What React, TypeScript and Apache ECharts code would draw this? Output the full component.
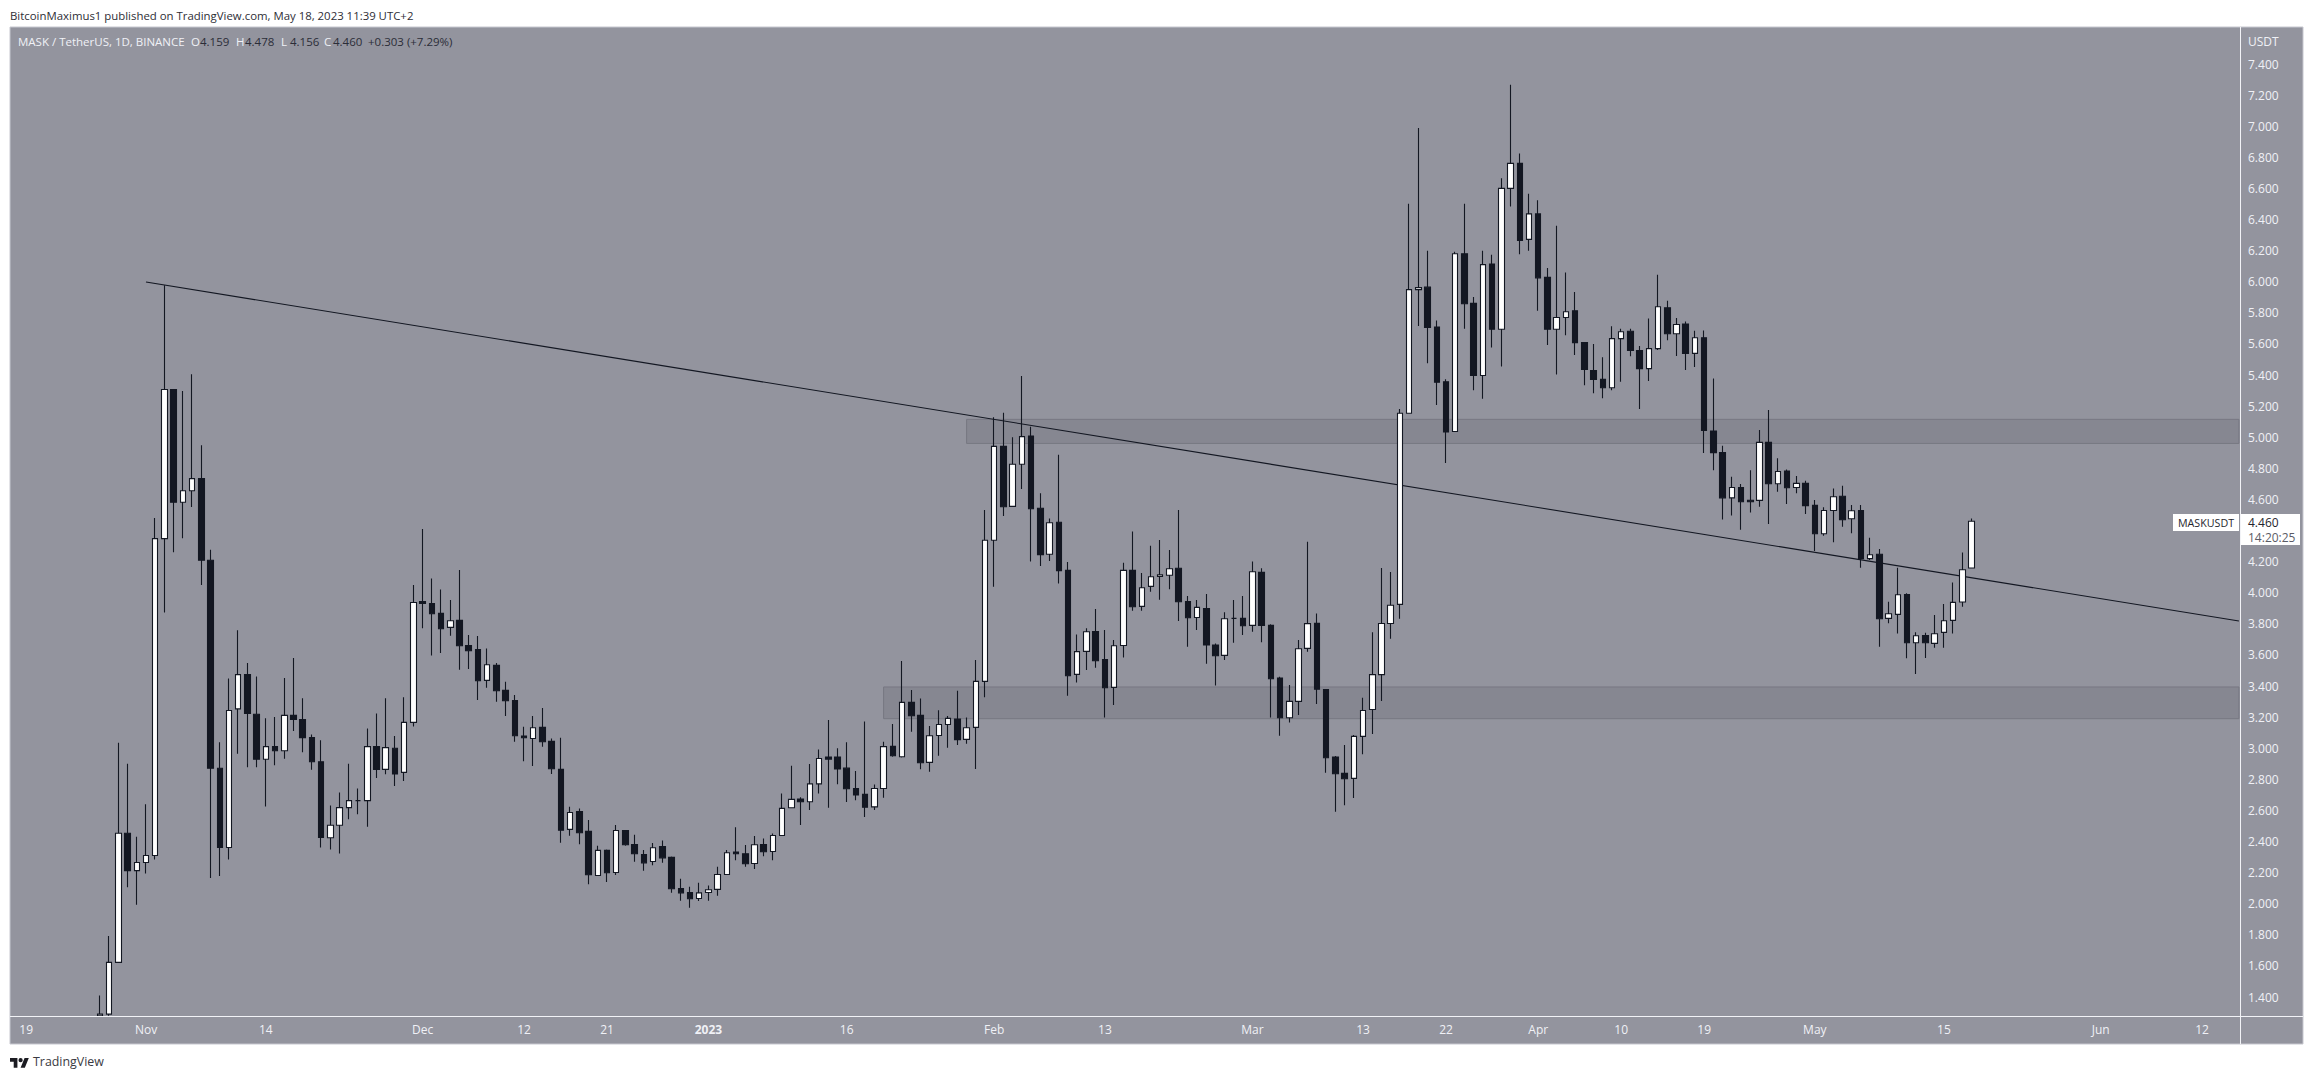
import React, { useEffect, useRef } from "react";
import * as echarts from "echarts";

const firstCategory = Date.UTC(2022, 9, 18);
const categoryCount = 242;
const firstCandleIndex = 9; // Oct 27

const opens = [
  1.28, 1.29, 1.623, 2.453, 2.213,
  2.265, 2.31, 4.348, 5.307, 4.582, 4.656, 4.734, 4.209, 2.871, 2.362,
  3.253, 3.473, 3.218, 2.929, 3.01, 2.984, 3.211, 3.185, 3.068, 2.913,
  2.424, 2.505, 2.618, 2.663, 2.663, 3.01, 2.864, 3.0, 2.845, 3.166,
  3.944, 3.931, 3.867, 3.777, 3.822, 3.661, 3.635, 3.436, 3.533, 3.372,
  3.307, 3.078, 3.063, 3.134, 3.044, 2.864, 2.478, 2.593, 2.465, 2.182,
  2.343, 2.201, 2.471, 2.381, 2.317, 2.272, 2.368, 2.298, 2.098, 2.072,
  2.034, 2.072, 2.092, 2.188, 2.332, 2.321, 2.259, 2.381, 2.336, 2.439,
  2.617, 2.673, 2.656, 2.771, 2.943, 2.943, 2.872, 2.741, 2.703, 2.623,
  2.741, 3.012, 2.945, 3.295, 3.211, 2.909, 3.082, 3.153, 3.188, 3.057,
  3.134, 3.43, 4.337, 4.941, 4.555, 4.826, 5.008, 4.543, 4.247, 4.453,
  4.144, 3.475, 3.623, 3.751, 3.571, 3.391, 3.661, 4.144, 3.912, 4.041,
  4.105, 4.112, 4.157, 3.944, 3.841, 3.899, 3.664, 3.597, 3.835, 3.835,
  3.79, 4.131, 3.79, 3.451, 3.196, 3.301, 3.642, 3.803, 3.378, 2.943,
  2.838, 2.806, 3.076, 3.249, 3.473, 3.802, 3.925, 5.154, 5.949, 5.965,
  5.709, 5.356, 5.037, 6.18, 5.861, 5.397, 6.114, 5.694, 6.6, 6.761,
  6.272, 6.436, 6.028, 5.694, 5.77, 5.813, 5.608, 5.428, 5.372, 5.318,
  5.634, 5.681, 5.558, 5.441, 5.57, 5.833, 5.665, 5.728, 5.539, 5.64,
  5.04, 4.901, 4.61, 4.677, 4.595, 4.594, 4.967, 4.701, 4.782, 4.677,
  4.703, 4.562, 4.379, 4.529, 4.62, 4.476, 4.529, 4.219, 4.247, 3.835,
  3.861, 3.989, 3.678, 3.725, 3.674, 3.745, 3.822, 3.94, 4.159,
];

const highs = [
  1.41, 1.792, 3.036, 2.9, 2.43,
  2.64, 4.481, 5.978, 5.307, 5.298, 5.405, 4.948, 4.277, 3.039, 3.448,
  3.759, 3.548, 3.461, 3.192, 3.201, 3.451, 3.58, 3.321, 3.088, 3.052,
  2.631, 2.715, 2.9, 2.741, 3.127, 3.224, 3.321, 3.078, 3.328, 4.05,
  4.409, 4.092, 4.021, 3.953, 4.146, 3.728, 3.721, 3.642, 3.548, 3.428,
  3.342, 3.138, 3.207, 3.258, 3.063, 3.067, 2.624, 2.613, 2.538, 2.373,
  2.349, 2.506, 2.471, 2.443, 2.345, 2.39, 2.407, 2.304, 2.16, 2.109,
  2.135, 2.118, 2.238, 2.345, 2.491, 2.377, 2.435, 2.42, 2.452, 2.709,
  2.887, 2.684, 2.898, 2.992, 3.181, 3.0, 3.039, 2.853, 3.172, 2.767,
  3.042, 3.155, 3.561, 3.374, 3.32, 3.143, 3.245, 3.207, 3.37, 3.198,
  3.567, 4.532, 5.128, 5.158, 4.999, 5.394, 5.068, 4.639, 4.478, 4.888,
  4.197, 3.732, 3.771, 3.895, 3.76, 3.696, 4.193, 4.393, 4.127, 4.302,
  4.339, 4.275, 4.532, 3.979, 3.953, 3.992, 3.674, 3.874, 3.953, 3.979,
  4.2, 4.157, 3.797, 3.46, 3.406, 3.696, 4.328, 3.867, 3.378, 2.95,
  3.02, 3.085, 3.325, 3.745, 4.159, 4.134, 5.182, 6.502, 6.988, 6.199,
  5.75, 5.372, 6.193, 6.502, 5.902, 6.199, 6.174, 6.666, 7.266, 6.824,
  6.565, 6.524, 6.088, 6.36, 6.06, 5.934, 5.608, 5.599, 5.514, 5.713,
  5.697, 5.697, 5.586, 5.763, 6.044, 5.877, 5.766, 5.744, 5.684, 5.687,
  5.378, 4.945, 4.746, 4.699, 4.787, 5.046, 5.175, 4.864, 4.793, 4.75,
  4.72, 4.596, 4.549, 4.671, 4.688, 4.564, 4.564, 4.354, 4.281, 3.942,
  4.161, 3.996, 3.745, 3.743, 3.856, 3.927, 4.066, 4.259, 4.478,
];

const lows = [
  1.28, 1.28, 1.623, 2.106, 1.993,
  2.194, 2.284, 3.872, 4.261, 4.351, 4.552, 4.05, 2.165, 2.178, 2.284,
  2.965, 2.877, 2.877, 2.625, 2.89, 2.932, 3.111, 2.974, 2.861, 2.362,
  2.349, 2.323, 2.544, 2.576, 2.495, 2.809, 2.832, 2.757, 2.79, 3.14,
  3.771, 3.597, 3.612, 3.723, 3.505, 3.509, 3.31, 3.389, 3.299, 3.207,
  3.042, 2.917, 2.885, 3.01, 2.834, 2.392, 2.437, 2.383, 2.126, 2.182,
  2.139, 2.184, 2.373, 2.27, 2.212, 2.248, 2.263, 2.07, 2.019, 1.974,
  2.017, 2.019, 2.051, 2.188, 2.28, 2.238, 2.223, 2.306, 2.28, 2.439,
  2.617, 2.506, 2.602, 2.709, 2.617, 2.769, 2.654, 2.666, 2.557, 2.602,
  2.681, 2.945, 2.941, 3.106, 2.864, 2.849, 2.952, 3.003, 3.02, 3.029,
  2.866, 3.327, 4.039, 4.493, 4.553, 4.667, 4.2, 4.172, 4.204, 4.06,
  3.338, 3.423, 3.503, 3.518, 3.198, 3.278, 3.584, 3.884, 3.884, 4.007,
  3.955, 4.022, 3.818, 3.653, 3.76, 3.543, 3.404, 3.567, 3.679, 3.728,
  3.749, 3.681, 3.198, 3.08, 3.166, 3.213, 3.621, 3.284, 2.842, 2.592,
  2.634, 2.68, 2.962, 3.091, 3.303, 3.704, 3.833, 5.154, 5.716, 5.476,
  5.207, 4.835, 5.037, 5.697, 5.302, 5.248, 5.577, 5.454, 6.483, 6.177,
  6.199, 5.814, 5.593, 5.403, 5.656, 5.529, 5.334, 5.283, 5.251, 5.302,
  5.356, 5.52, 5.182, 5.362, 5.561, 5.624, 5.523, 5.432, 5.451, 4.898,
  4.787, 4.471, 4.497, 4.405, 4.516, 4.553, 4.442, 4.649, 4.57, 4.639,
  4.506, 4.268, 4.367, 4.324, 4.424, 4.382, 4.161, 4.21, 3.653, 3.803,
  3.738, 3.578, 3.477, 3.58, 3.646, 3.646, 3.738, 3.91, 4.156,
];

const closes = [
  1.29, 1.623, 2.453, 2.213, 2.265,
  2.31, 4.348, 5.307, 4.582, 4.656, 4.734, 4.209, 2.871, 2.362, 3.243,
  3.473, 3.224, 2.929, 3.01, 2.984, 3.211, 3.185, 3.068, 2.913, 2.427,
  2.505, 2.618, 2.663, 2.663, 3.01, 2.864, 3.004, 2.835, 3.166, 3.937,
  3.931, 3.865, 3.768, 3.82, 3.659, 3.627, 3.434, 3.537, 3.37, 3.305,
  3.08, 3.067, 3.132, 3.042, 2.868, 2.473, 2.587, 2.456, 2.186, 2.343,
  2.199, 2.471, 2.379, 2.321, 2.263, 2.36, 2.295, 2.096, 2.07, 2.032,
  2.07, 2.09, 2.188, 2.328, 2.321, 2.257, 2.379, 2.334, 2.439, 2.613,
  2.671, 2.656, 2.771, 2.934, 2.93, 2.866, 2.739, 2.699, 2.621, 2.741,
  3.01, 2.952, 3.295, 3.209, 2.907, 3.08, 3.153, 3.192, 3.055, 3.132,
  3.43, 4.337, 4.941, 4.553, 4.826, 5.004, 4.54, 4.245, 4.45, 4.142,
  3.466, 3.621, 3.749, 3.563, 3.389, 3.659, 4.144, 3.91, 4.032, 4.103,
  4.116, 4.154, 3.942, 3.839, 3.906, 3.664, 3.595, 3.833, 3.835, 3.788,
  4.135, 3.79, 3.447, 3.196, 3.301, 3.64, 3.801, 3.38, 2.939, 2.836,
  2.804, 3.076, 3.243, 3.473, 3.802, 3.919, 5.154, 5.949, 5.962, 5.706,
  5.353, 5.034, 6.18, 5.858, 5.397, 6.11, 5.694, 6.6, 6.761, 6.265,
  6.436, 6.025, 5.694, 5.77, 5.807, 5.608, 5.435, 5.372, 5.318, 5.634,
  5.678, 5.558, 5.441, 5.57, 5.839, 5.665, 5.725, 5.539, 5.64, 5.043,
  4.901, 4.61, 4.677, 4.585, 4.585, 4.967, 4.701, 4.78, 4.675, 4.703,
  4.56, 4.379, 4.529, 4.617, 4.469, 4.527, 4.219, 4.244, 3.833, 3.865,
  3.987, 3.678, 3.723, 3.678, 3.736, 3.82, 3.938, 4.148, 4.46,
];

const priceTicks = [
  1.4, 1.6, 1.8, 2.0, 2.2, 2.4, 2.6, 2.8, 3.0, 3.2, 3.4, 3.6, 3.8, 4.0, 4.2,
  4.6, 4.8, 5.0, 5.2, 5.4, 5.6, 5.8, 6.0, 6.2, 6.4, 6.6, 6.8, 7.0, 7.2, 7.4,
];

const timeTicks: [string, string][] = [
  ["2022-10-19", "19"], ["2022-11-01", "Nov"], ["2022-11-14", "14"],
  ["2022-12-01", "Dec"], ["2022-12-12", "12"], ["2022-12-21", "21"],
  ["2023-01-01", "2023"], ["2023-01-16", "16"], ["2023-02-01", "Feb"],
  ["2023-02-13", "13"], ["2023-03-01", "Mar"], ["2023-03-13", "13"],
  ["2023-03-22", "22"], ["2023-04-01", "Apr"], ["2023-04-10", "10"],
  ["2023-04-19", "19"], ["2023-05-01", "May"], ["2023-05-15", "15"],
  ["2023-06-01", "Jun"], ["2023-06-12", "12"],
];

const trendStart = { date: "2022-11-01", price: 5.998 };
const trendEnd = { date: "2023-06-16", price: 3.818 };
const upperZone = { from: "2023-01-29", low: 4.96, high: 5.115 };
const lowerZone = { from: "2023-01-20", low: 3.19, high: 3.394 };
const zoneEnd = "2023-06-16";

const header = "BitcoinMaximus1 published on TradingView.com, May 18, 2023 11:39 UTC+2";
const title = "MASK / TetherUS, 1D, BINANCE";
const ohlcLegend: [string, string, number][] = [
  ["O", "4.159", 191],
  ["H", "4.478", 236],
  ["L", "4.156", 281],
  ["C", "4.460", 324],
];
const changeLegend = "+0.303 (+7.29%)";

const FONT = "'Open Sans', 'Noto Sans', sans-serif";
const PANE = "#93949e";
const INK = "#131722";
const LIGHT = "#f0f1f6";

const categories: string[] = [];
for (let i = 0; i < categoryCount; i++) {
  categories.push(new Date(firstCategory + i * 86400000).toISOString().slice(0, 10));
}
const labelByDate = new Map(timeTicks);

echarts.graphic.registerShape(
  "tvLogo",
  echarts.graphic.extendPath(
    "M14 22H7V11H0V4h14v18zM28 22h-8l7.5-18h8L28 22zM24 8a4 4 0 1 1-8 0a4 4 0 1 1 8 0z",
    {}
  )
);

function text(x: number, y: number, t: string, fill: string, extra: any = {}) {
  return {
    type: "text",
    x,
    y,
    z: 100,
    silent: true,
    style: {
      text: t,
      fill,
      font: `${extra.size ?? 12}px ${FONT}`,
      fontWeight: extra.weight,
      textVerticalAlign: "middle",
      verticalAlign: "middle",
      align: "left",
    },
  };
}

export default function App() {
  const ref = useRef<HTMLDivElement>(null);
  useEffect(() => {
    const chart = echarts.init(ref.current!, undefined, { renderer: "svg" });
    const candleData = opens.map((o, i) => [i + firstCandleIndex, o, closes[i], lows[i], highs[i]]);
    const legendEls: any[] = [];
    for (const [k, v, x] of ohlcLegend) {
      legendEls.push(text(x, 41, k, LIGHT, { size: 11.5 }));
      legendEls.push(text(x + 9, 41, v, "#2b2d38", { size: 11.5 }));
    }
    const zone = (z: { from: string; low: number; high: number }) => [
      { xAxis: z.from, yAxis: z.high },
      { xAxis: zoneEnd, yAxis: z.low },
    ];
    chart.setOption({
      animation: false,
      backgroundColor: "#ffffff",
      textStyle: { fontFamily: FONT },
      grid: { left: 12.31, top: 27, width: 2231.24, height: 989, containLabel: false },
      xAxis: {
        type: "category",
        data: categories,
        boundaryGap: true,
        axisLine: { show: false },
        axisTick: { show: false },
        splitLine: { show: false },
        axisLabel: {
          interval: (_: number, v: string) => labelByDate.has(v),
          formatter: (v: string) => {
            const t = labelByDate.get(v) ?? "";
            return t === "2023" ? `{b|${t}}` : t;
          },
          rich: { b: { fontWeight: "bold", fontSize: 12, color: LIGHT, fontFamily: FONT } },
          color: LIGHT,
          fontSize: 12,
          fontFamily: FONT,
          margin: 7,
        },
      },
      yAxis: {
        type: "value",
        position: "right",
        min: 1.278,
        max: 7.638,
        scale: true,
        axisLine: { show: false },
        axisTick: { show: false },
        splitLine: { show: false },
        axisLabel: {
          customValues: priceTicks,
          formatter: (v: number) => v.toFixed(3),
          color: LIGHT,
          fontSize: 12,
          fontFamily: FONT,
          margin: 4.45,
          showMinLabel: true,
          showMaxLabel: true,
        },
      },
      series: [
        {
          type: "candlestick",
          data: candleData,
          encode: { x: 0, y: [1, 2, 3, 4] },
          barWidth: 6,
          clip: true,
          z: 5,
          itemStyle: {
            color: "#ffffff",
            color0: INK,
            borderColor: INK,
            borderColor0: INK,
            borderWidth: 1.1,
          },
          markArea: {
            silent: true,
            z: 1,
            itemStyle: { color: "#868791", borderColor: "#777882", borderWidth: 1 },
            data: [zone(upperZone), zone(lowerZone)],
          },
          markLine: {
            silent: true,
            z: 2,
            symbol: "none",
            label: { show: false },
            lineStyle: { color: INK, width: 1.1, type: "solid" },
            data: [
              [
                { xAxis: trendStart.date, yAxis: trendStart.price },
                { xAxis: trendEnd.date, yAxis: trendEnd.price },
              ],
            ],
          },
        },
      ],
      graphic: [
        { type: "rect", z: -10, silent: true, shape: { x: 10, y: 27, width: 2293, height: 1017 }, style: { fill: PANE, stroke: "#c6c7cf", lineWidth: 1 } },
        { type: "line", z: 90, silent: true, shape: { x1: 2240.5, y1: 27, x2: 2240.5, y2: 1044 }, style: { stroke: "#f2f3f7", lineWidth: 1 } },
        { type: "line", z: 90, silent: true, shape: { x1: 10, y1: 1016.5, x2: 2303, y2: 1016.5 }, style: { stroke: "#f2f3f7", lineWidth: 1 } },
        text(10, 15, header, "#2e2e36", { size: 11.4 }),
        text(18, 41, title, LIGHT, { size: 11.5 }),
        ...legendEls,
        text(368, 41, changeLegend, "#2b2d38", { size: 11.5 }),
        text(2248, 41, "USDT", LIGHT, { size: 12 }),
        { type: "rect", z: 95, silent: true, shape: { x: 2173, y: 514, width: 66, height: 17 }, style: { fill: "#ffffff" } },
        text(2178, 522.5, "MASKUSDT", "#26262e", { size: 10.7 }),
        { type: "rect", z: 95, silent: true, shape: { x: 2241, y: 514, width: 59, height: 31 }, style: { fill: "#ffffff" } },
        text(2248, 522.5, "4.460", "#26262e", { size: 12 }),
        text(2248, 537, "14:20:25", "#5b5c66", { size: 12 }),
        { type: "tvLogo", x: 10, y: 1056, scaleX: 0.53, scaleY: 0.53, z: 100, silent: true, style: { fill: "#1c1c22" } },
        text(33, 1061, "TradingView", "#3a3a42", { size: 12.4 }),
      ],
    });
    return () => chart.dispose();
  }, []);
  return (
    <div
      ref={ref}
      style={{ position: "fixed", left: 0, top: 0, width: 2314, height: 1079 }}
    />
  );
}
